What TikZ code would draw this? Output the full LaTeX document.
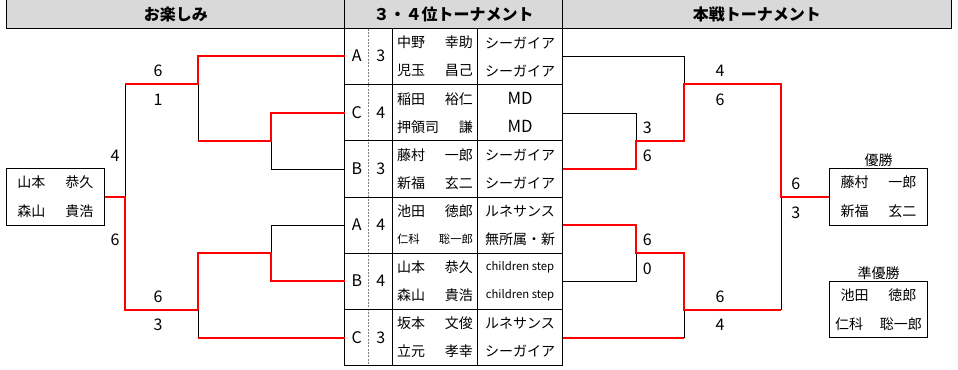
\documentclass[tikz,border=0pt]{standalone}
\usepackage{fontspec}
\setmainfont{Noto Sans CJK JP}
\definecolor{hdrgray}{HTML}{D9D9D9}
\newcommand{\nm}[3][57pt]{\hbox to #1{#2\hfill#3}}
\newcommand{\sm}[1]{{\fontsize{8.5}{9}\selectfont #1}}

\begin{document}
\begin{tikzpicture}[x=0.75pt,y=-0.75pt,
    win/.style={color=red,line width=1.5pt},
    lose/.style={color=black,line width=0.75pt},
    score/.style={font=\fontsize{12}{12}\selectfont,inner sep=0pt},
    hdr/.style={font=\bfseries\fontsize{12}{12}\selectfont,inner sep=0pt},
    cell/.style={font=\fontsize{10.5}{11}\selectfont,inner sep=0pt},
    pair/.style={draw,line width=0.75pt,minimum width=73.5pt,minimum height=42.5pt,
        inner sep=0pt,align=center,font=\fontsize{10.5}{21.5}\selectfont}]
    \useasboundingbox (0,0) rectangle (958,369);
    % Headers
    \fill[hdrgray] (6.5,0) rectangle (951.5,28.5);
    \draw[lose] (6.5,0) -- (6.5,28.5) -- (951.5,28.5) -- (951.5,0);
    \node[hdr] (hleft) at (175.8,14.5) {お楽しみ};
    \node[hdr] (hmid) at (453.6,14.5) {３・４位トーナメント};
    \node[hdr] (hright) at (756.9,14.5) {本戦トーナメント};
    % Table frame
    \draw[lose] (344.5,0) -- (344.5,365.5);
    \draw[lose] (562.5,0) -- (562.5,365.5);
    \draw[lose] (392.5,28.5) -- (392.5,365.5);
    \draw[lose] (477.5,28.5) -- (477.5,365.5);
    \draw[gray,line width=0.5pt,dash pattern=on 1.5pt off 1pt] (368.5,28.5) -- (368.5,365.5);
    \foreach \g in {0,...,6}
        \draw[lose] (344.5,{28.5+\g*56.17}) -- (562.5,{28.5+\g*56.17});
    % Blocks and points
    \foreach \g/\blk/\pts/\ym in {1/A/3/56,2/C/4/113,3/B/3/169,4/A/4/225,5/B/4/281,6/C/3/338} {
        \node[score] (b\g) at (356.8,\ym) {\blk};
        \node[score] (p\g) at (380.7,\ym) {\pts};
        \coordinate (gL\g) at (344.5,\ym);
        \coordinate (gR\g) at (562.5,\ym);
    }
    % Players and clubs
    \foreach \r/\sur/\giv/\club in {1/中野/幸助/シーガイア,2/児玉/昌己/シーガイア,
        3/稲田/裕仁/{\fontsize{12.5}{13}\selectfont MD},4/押領司/謙/{\fontsize{12.5}{13}\selectfont MD},
        5/藤村/一郎/シーガイア,6/新福/玄二/シーガイア,
        7/池田/徳郎/ルネサンス,8/\sm{仁科}/\sm{聡一郎}/無所属・新,
        9/山本/恭久/\sm{children step},10/森山/貴浩/\sm{children step},
        11/坂本/文俊/ルネサンス,12/立元/孝幸/シーガイア} {
        \node[cell] (n\r) at (435,{28.5+(\r-0.5)*28.085}) {\nm{\sur}{\giv}};
        \node[cell] (c\r) at (520,{28.5+(\r-0.5)*28.085}) {\club};
    }
    % Boxes
    \node[pair] (lbox) at (55.5,197) {\nm{山本}{恭久}\\\nm{森山}{貴浩}};
    \node[pair] (wbox) at (878.5,197) {\nm{藤村}{一郎}\\\nm{新福}{玄二}};
    \node[pair] (rbox) at (878.5,309.5) {\nm{池田}{徳郎}\\\nm[65pt]{仁科}{聡一郎}};
    \node[cell] (wlabel) at (878.5,160) {優勝};
    \node[cell] (rlabel) at (878.5,272.7) {準優勝};
    % Junctions
    \coordinate (jl1) at (198,84);
    \coordinate (jl2) at (271,141);
    \coordinate (jl3) at (271,253);
    \coordinate (jl4) at (198,310);
    \coordinate (jl5) at (125,197);
    \coordinate (jr1) at (684,84);
    \coordinate (jr2) at (636,141);
    \coordinate (jr3) at (636,253);
    \coordinate (jr4) at (684,310);
    \coordinate (jr5) at (781,197);
    % Left bracket
    \draw[lose] (jl1) -- (jl1 |- jl2);
    \draw[lose] (jl2) |- (gL3);
    \draw[lose] (jl5) -- (jl5 |- jl1);
    \draw[lose] (gL4) -| (jl3);
    \draw[lose] (jl4) -- (jl4 |- gL6);
    \draw[win] (gL1) -| (jl1) -- (jl1 -| jl5);
    \draw[win] (gL2) -| (jl2) -- (jl2 -| jl1);
    \draw[win] (lbox.east) -- (jl5) |- (jl4);
    \draw[win] (jl4) |- (jl3) |- (gL5);
    \draw[win] (gL6) -- (gL6 -| jl4);
    % Right bracket
    \draw[lose] (gR1) -| (jr1);
    \draw[lose] (gR2) -| (jr2);
    \draw[lose] (gR5) -| (jr3);
    \draw[lose] (jr4) -- (jr4 |- gR6);
    \draw[lose] (jr5) -- (jr5 |- jr4);
    \draw[win] (gR3) -| (jr2) -| (jr1) -| (jr5) -- (wbox.west);
    \draw[win] (gR4) -| (jr3) -| (jr4) -- (jr4 -| jr5);
    \draw[win] (gR6) -- (gR6 -| jr4);
    % Scores
    \node[score] (sl1) at (158,71) {6};
    \node[score] (sl2) at (158,99.5) {1};
    \node[score] (sl3) at (115,156) {4};
    \node[score] (sl4) at (115,240) {6};
    \node[score] (sl5) at (158,297) {6};
    \node[score] (sl6) at (158,325) {3};
    \node[score] (sr1) at (720,71) {4};
    \node[score] (sr2) at (720,100) {6};
    \node[score] (sr3) at (647.3,127.7) {3};
    \node[score] (sr4) at (647.3,156) {6};
    \node[score] (sr5) at (795.7,183.3) {6};
    \node[score] (sr6) at (795.7,212.3) {3};
    \node[score] (sr7) at (647.3,240) {6};
    \node[score] (sr8) at (647.3,268.3) {0};
    \node[score] (sr9) at (720,296.7) {6};
    \node[score] (sr10) at (720,325) {4};
\end{tikzpicture}
\end{document}
